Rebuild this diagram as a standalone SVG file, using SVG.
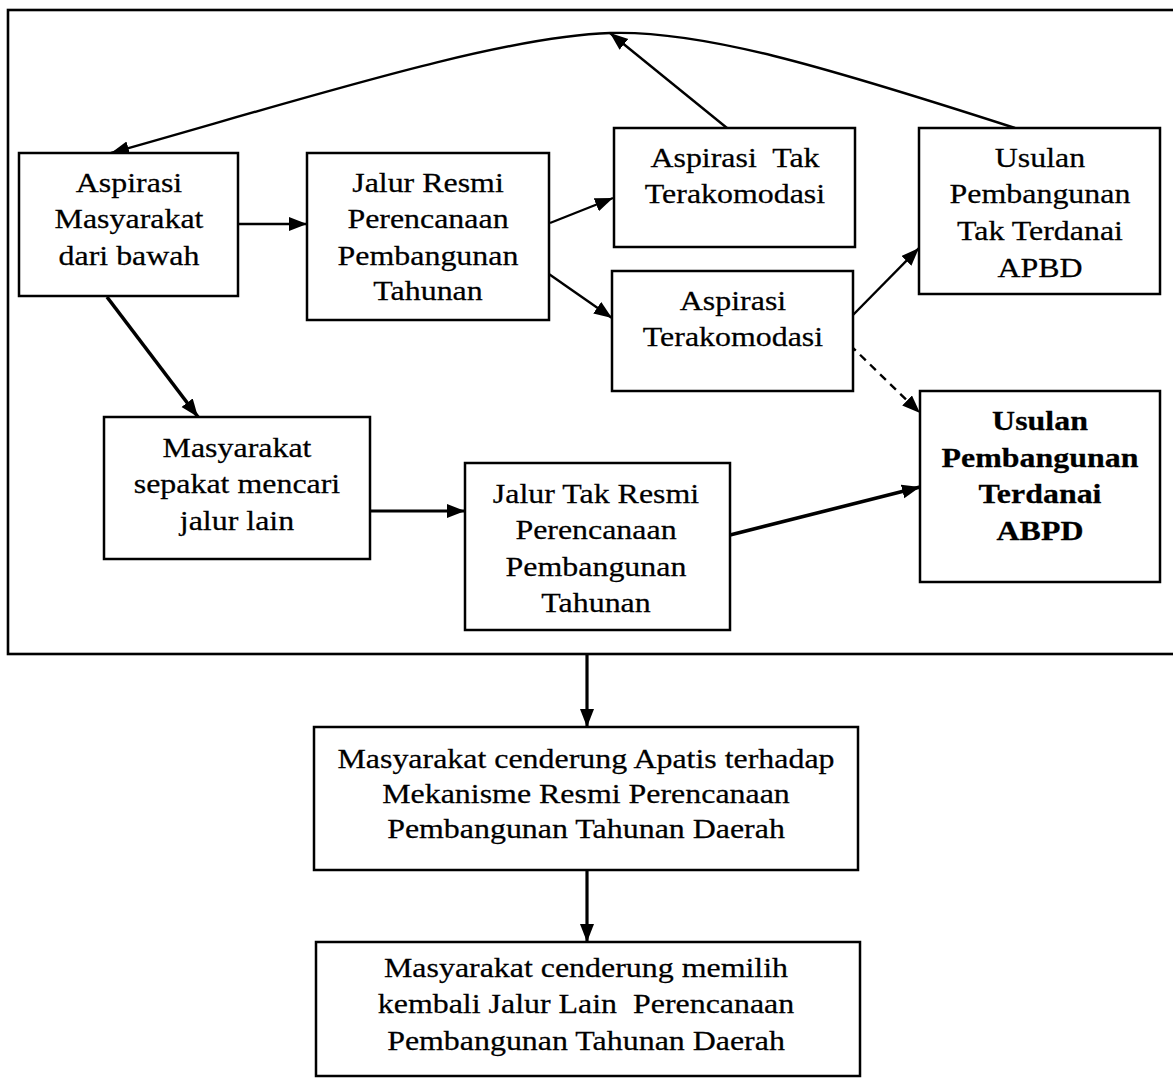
<svg xmlns="http://www.w3.org/2000/svg" width="1173" height="1079" viewBox="0 0 1173 1079">
<style>
.box{fill:#fff;stroke:#000;stroke-width:2.5}
.frame{fill:none;stroke:#000;stroke-width:2.6}
.t{font-family:"Liberation Serif","Times New Roman",serif;font-size:28px;text-anchor:middle;fill:#000;stroke:#000;stroke-width:0.25}
.b{font-weight:bold}
.c{fill:none;stroke:#000;stroke-width:2.4}
.k{stroke-width:3.6}
.d{stroke-dasharray:8 6}
</style>
<defs>
<marker id="ah" markerUnits="userSpaceOnUse" markerWidth="19" markerHeight="15" refX="18" refY="7" orient="auto">
<path d="M0,0 L18,7 L0,14 Z" fill="#000"/>
</marker>
</defs>
<rect width="1173" height="1079" fill="#fff"/>
<rect class="frame" x="8" y="10" width="1180" height="644"/>
<g id="connectors">
<path class="c" d="M238,224 L307,224" marker-end="url(#ah)"/>
<path class="c" d="M550,223 L613,198" marker-end="url(#ah)"/>
<path class="c" d="M546,272 L612,318" marker-end="url(#ah)"/>
<path class="c" d="M852,316 L919,248" marker-end="url(#ah)"/>
<path class="c d" d="M850,345 L920,413" marker-end="url(#ah)"/>
<path class="c" d="M727,128 L610,33" marker-end="url(#ah)"/>
<path class="c" d="M1015,128 C820,65 700,30 610,33 C500,36 300,100 111,153" marker-end="url(#ah)"/>
<path class="c k" d="M107,297 L198,417" marker-end="url(#ah)"/>
<path class="c" style="stroke-width:3.2" d="M370,511 L465,511" marker-end="url(#ah)"/>
<path class="c k" d="M730,535 L920,487" marker-end="url(#ah)"/>
<path class="c" style="stroke-width:3.2" d="M587,655 L587,727" marker-end="url(#ah)"/>
<path class="c" style="stroke-width:3.2" d="M587,870 L587,942" marker-end="url(#ah)"/>
</g>
<g id="nA">
<rect class="box" x="19" y="153" width="219" height="143"/>
<text class="t" transform="matrix(1.14 0 0 1 129 0)"><tspan x="0" y="192">Aspirasi</tspan><tspan x="0" y="228">Masyarakat</tspan><tspan x="0" y="265">dari bawah</tspan></text>
</g>
<g id="nB">
<rect class="box" x="307" y="153" width="242" height="167"/>
<text class="t" transform="matrix(1.14 0 0 1 428 0)"><tspan x="0" y="192">Jalur Resmi</tspan><tspan x="0" y="228">Perencanaan</tspan><tspan x="0" y="265">Pembangunan</tspan><tspan x="0" y="300">Tahunan</tspan></text>
</g>
<g id="nC">
<rect class="box" x="614" y="128" width="241" height="119"/>
<text class="t" xml:space="preserve" transform="matrix(1.14 0 0 1 735 0)"><tspan x="0" y="167">Aspirasi  Tak</tspan><tspan x="0" y="203">Terakomodasi</tspan></text>
</g>
<g id="nD">
<rect class="box" x="919" y="128" width="241" height="166"/>
<text class="t" transform="matrix(1.14 0 0 1 1040 0)"><tspan x="0" y="167">Usulan</tspan><tspan x="0" y="203">Pembangunan</tspan><tspan x="0" y="240">Tak Terdanai</tspan><tspan x="0" y="277">APBD</tspan></text>
</g>
<g id="nE">
<rect class="box" x="612" y="271" width="241" height="120"/>
<text class="t" transform="matrix(1.14 0 0 1 733 0)"><tspan x="0" y="310">Aspirasi</tspan><tspan x="0" y="346">Terakomodasi</tspan></text>
</g>
<g id="nF">
<rect class="box" x="920" y="391" width="240" height="191"/>
<text class="t b" transform="matrix(1.14 0 0 1 1040 0)"><tspan x="0" y="430">Usulan</tspan><tspan x="0" y="467">Pembangunan</tspan><tspan x="0" y="503">Terdanai</tspan><tspan x="0" y="540">ABPD</tspan></text>
</g>
<g id="nG">
<rect class="box" x="104" y="417" width="266" height="142"/>
<text class="t" transform="matrix(1.14 0 0 1 237 0)"><tspan x="0" y="457">Masyarakat</tspan><tspan x="0" y="493">sepakat mencari</tspan><tspan x="0" y="530">jalur lain</tspan></text>
</g>
<g id="nH">
<rect class="box" x="465" y="463" width="265" height="167"/>
<text class="t" transform="matrix(1.14 0 0 1 596 0)"><tspan x="0" y="503">Jalur Tak Resmi</tspan><tspan x="0" y="539">Perencanaan</tspan><tspan x="0" y="576">Pembangunan</tspan><tspan x="0" y="612">Tahunan</tspan></text>
</g>
<g id="nI">
<rect class="box" x="314" y="727" width="544" height="143"/>
<text class="t" transform="matrix(1.14 0 0 1 586 0)"><tspan x="0" y="768">Masyarakat cenderung Apatis terhadap</tspan><tspan x="0" y="803">Mekanisme Resmi Perencanaan</tspan><tspan x="0" y="838">Pembangunan Tahunan Daerah</tspan></text>
</g>
<g id="nJ">
<rect class="box" x="316" y="942" width="544" height="134"/>
<text class="t" xml:space="preserve" transform="matrix(1.14 0 0 1 586 0)"><tspan x="0" y="977">Masyarakat cenderung memilih</tspan><tspan x="0" y="1013">kembali Jalur Lain  Perencanaan</tspan><tspan x="0" y="1050">Pembangunan Tahunan Daerah</tspan></text>
</g>
</svg>
